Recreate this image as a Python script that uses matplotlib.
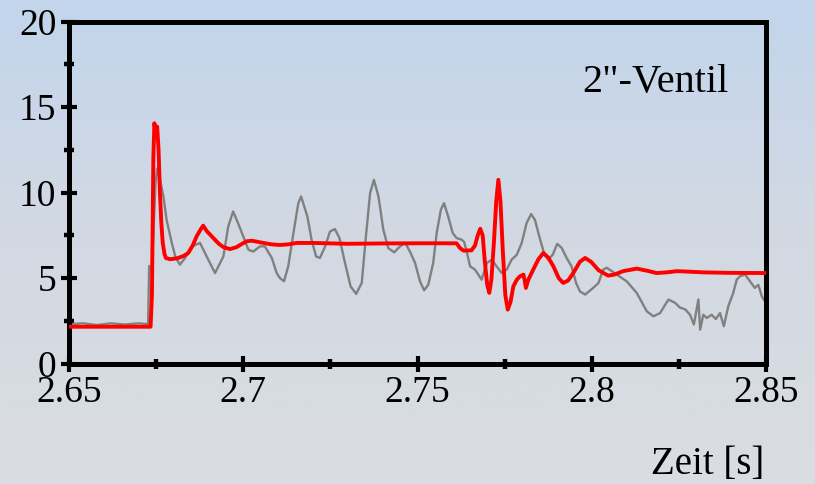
import numpy as np
import matplotlib
matplotlib.use("Agg")
import matplotlib.pyplot as plt
from matplotlib.colors import LinearSegmentedColormap

# Simulated pressure (red) vs. time
sim_t = [2.6500, 2.6734, 2.6738, 2.6742, 2.6745, 2.6749, 2.6753, 2.6757, 2.6761,
         2.6765, 2.6769, 2.6774, 2.6778, 2.6790, 2.6810, 2.6830, 2.6842, 2.6855,
         2.6866, 2.6878, 2.6885, 2.6895, 2.6914, 2.6930, 2.6943, 2.6962, 2.6980,
         2.6995, 2.7010, 2.7025, 2.7040, 2.7058, 2.7080, 2.7105, 2.7130, 2.7153,
         2.7200, 2.7300, 2.7400, 2.7500, 2.7600, 2.7612, 2.7622, 2.7632, 2.7655,
         2.7665, 2.7673, 2.7680, 2.7687, 2.7693, 2.7700, 2.7706, 2.7712, 2.7719,
         2.7726, 2.7732, 2.7738, 2.7745, 2.7752, 2.7759, 2.7767, 2.7775, 2.7785,
         2.7794, 2.7804, 2.7808, 2.7811, 2.7818, 2.7832, 2.7847, 2.7861, 2.7875,
         2.7890, 2.7905, 2.7918, 2.7932, 2.7947, 2.7966, 2.7981, 2.7998, 2.8020,
         2.8047, 2.8065, 2.8090, 2.8129, 2.8160, 2.8186, 2.8215, 2.8244, 2.8280,
         2.8320, 2.8400, 2.8500]
sim_p = [2.15, 2.15, 4.0, 12.0, 14.05, 13.45, 13.85, 12.5, 9.97,
         8.2, 7.05, 6.4, 6.17, 6.1, 6.15, 6.3, 6.46, 6.9,
         7.43, 7.85, 8.06, 7.75, 7.34, 7.0, 6.81, 6.69, 6.8,
         6.98, 7.15, 7.18, 7.12, 7.05, 6.97, 6.93, 6.97, 7.05,
         7.05, 7.0, 7.02, 7.03, 7.03, 7.03, 6.75, 6.6, 6.62,
         6.9, 7.5, 7.88, 7.5, 6.0, 4.6, 4.13, 4.9, 7.0,
         9.5, 10.74, 9.5, 6.5, 4.0, 3.15, 3.6, 4.51, 4.9,
         5.1, 5.2, 4.8, 4.42, 4.9, 5.49, 6.1, 6.46, 6.2,
         5.68, 5.0, 4.71, 4.85, 5.29, 5.95, 6.17, 5.95, 5.45,
         5.14, 5.2, 5.4, 5.55, 5.42, 5.29, 5.33, 5.4, 5.37,
         5.33, 5.3, 5.29]

# Measured pressure (grey) vs. time
meas_t = [2.6500, 2.6540, 2.6580, 2.6620, 2.6660, 2.6700, 2.6727, 2.6730, 2.6737,
          2.6742, 2.6748, 2.6753, 2.6761, 2.6771, 2.6780, 2.6795, 2.6805, 2.6818,
          2.6833, 2.6852, 2.6876, 2.6895, 2.6919, 2.6943, 2.6957, 2.6971, 2.6985,
          2.7000, 2.7015, 2.7029, 2.7048, 2.7062, 2.7082, 2.7096, 2.7105, 2.7117,
          2.7129, 2.7144, 2.7158, 2.7166, 2.7172, 2.7184, 2.7196, 2.7209, 2.7220,
          2.7235, 2.7249, 2.7263, 2.7276, 2.7292, 2.7308, 2.7324, 2.7340, 2.7352,
          2.7364, 2.7375, 2.7388, 2.7402, 2.7416, 2.7433, 2.7450, 2.7465, 2.7478,
          2.7493, 2.7507, 2.7519, 2.7531, 2.7545, 2.7555, 2.7567, 2.7576, 2.7588,
          2.7601, 2.7612, 2.7627, 2.7634, 2.7641, 2.7651, 2.7665, 2.7684, 2.7699,
          2.7713, 2.7727, 2.7742, 2.7756, 2.7770, 2.7785, 2.7799, 2.7813, 2.7826,
          2.7837, 2.7852, 2.7863, 2.7875, 2.7888, 2.7901, 2.7914, 2.7928, 2.7942,
          2.7955, 2.7966, 2.7981, 2.8004, 2.8019, 2.8033, 2.8043, 2.8072, 2.8100,
          2.8129, 2.8158, 2.8177, 2.8196, 2.8220, 2.8239, 2.8253, 2.8268, 2.8282,
          2.8293, 2.8301, 2.8306, 2.8311, 2.8320, 2.8330, 2.8344, 2.8356, 2.8368,
          2.8379, 2.8392, 2.8406, 2.8416, 2.8425, 2.8440, 2.8454, 2.8468, 2.8478,
          2.8488, 2.8497]
meas_p = [2.30, 2.35, 2.25, 2.35, 2.28, 2.35, 2.30, 5.70, 5.50,
          7.50, 10.50, 11.40, 10.74, 9.77, 8.40, 7.05, 6.26, 5.78,
          6.17, 6.85, 7.05, 6.26, 5.29, 6.26, 8.02, 8.89, 8.21,
          7.43, 6.65, 6.55, 6.85, 6.85, 6.17, 5.29, 5.00, 4.81,
          5.68, 7.63, 9.38, 9.77, 9.38, 8.60, 7.24, 6.26, 6.17,
          6.85, 7.72, 7.86, 7.34, 5.88, 4.51, 4.07, 4.71, 7.43,
          9.97, 10.74, 9.77, 7.82, 6.75, 6.50, 6.85, 7.05, 6.56,
          5.88, 4.81, 4.28, 4.61, 5.88, 7.63, 8.99, 9.38, 8.60,
          7.63, 7.34, 7.24, 7.10, 6.56, 5.68, 5.49, 4.90, 5.88,
          6.07, 5.68, 5.29, 5.49, 6.07, 6.36, 7.05, 8.21, 8.74,
          8.40, 7.24, 6.46, 6.07, 6.36, 7.00, 6.75, 6.17, 5.68,
          4.71, 4.22, 4.03, 4.42, 4.70, 5.49, 5.60, 5.20, 4.81,
          4.13, 3.05, 2.76, 2.95, 3.74, 3.55, 3.27, 3.17, 2.85,
          2.28, 3.17, 3.74, 1.98, 2.85, 2.66, 2.85, 2.60, 2.95,
          2.18, 3.36, 4.13, 4.90, 5.10, 5.20, 4.81, 4.42, 4.60,
          3.93, 3.64]

x_ticks = [2.65, 2.7, 2.75, 2.8, 2.85]
x_labels = ["2.65", "2.7", "2.75", "2.8", "2.85"]
x_minor = [2.675, 2.725, 2.775, 2.825]
y_ticks = [0, 5, 10, 15, 20]
y_minor = [2.5, 7.5, 12.5, 17.5]

plt.rcParams["font.family"] = ["Liberation Serif", "DejaVu Serif"]

W, H = 815, 484
fig = plt.figure(figsize=(W / 100, H / 100), dpi=100)

# vertical background gradient: light blue on top, pale grey at the bottom
bg = fig.add_axes([0, 0, 1, 1], zorder=-10)
cmap = LinearSegmentedColormap.from_list("bg", ["#dadde2", "#d3d9e2", "#c2d5ec"])
grad = np.linspace(0, 1, 256).reshape(-1, 1)
bg.imshow(grad, aspect="auto", cmap=cmap, origin="lower", extent=[0, 1, 0, 1])
bg.set_axis_off()

left, right, top, bottom = 69, 766, 21.5, 363.5
ax = fig.add_axes([left / W, 1 - bottom / H, (right - left) / W, (bottom - top) / H])
ax.patch.set_alpha(0)

ax.plot(meas_t, meas_p, color="#808080", lw=1.7, zorder=2, solid_joinstyle="round")
ax.plot(sim_t, sim_p, color="#ff0000", lw=2.8, zorder=3, solid_joinstyle="round")

ax.set_xlim(2.65, 2.85)
ax.set_ylim(0, 20)
ax.set_xticks(x_ticks)
ax.set_xticklabels(x_labels)
ax.set_xticks(x_minor, minor=True)
ax.set_yticks(y_ticks)
ax.set_yticks(y_minor, minor=True)

for s in ax.spines.values():
    s.set_linewidth(3.6)
    s.set_color("black")

ax.tick_params(which="major", direction="inout", length=12, width=3, labelsize=27,
               pad=3, colors="black")
ax.tick_params(which="minor", direction="inout", length=7, width=3.2)
ax.tick_params(axis="y", which="major", pad=3)

fig.text(582 / W, 1 - 92 / H, "2\"-Ventil", fontsize=29, ha="left", va="baseline")
fig.text(764 / W, 1 - 474 / H, "Zeit [s]", fontsize=28, ha="right", va="baseline")

fig.savefig("out.png", dpi=100)
